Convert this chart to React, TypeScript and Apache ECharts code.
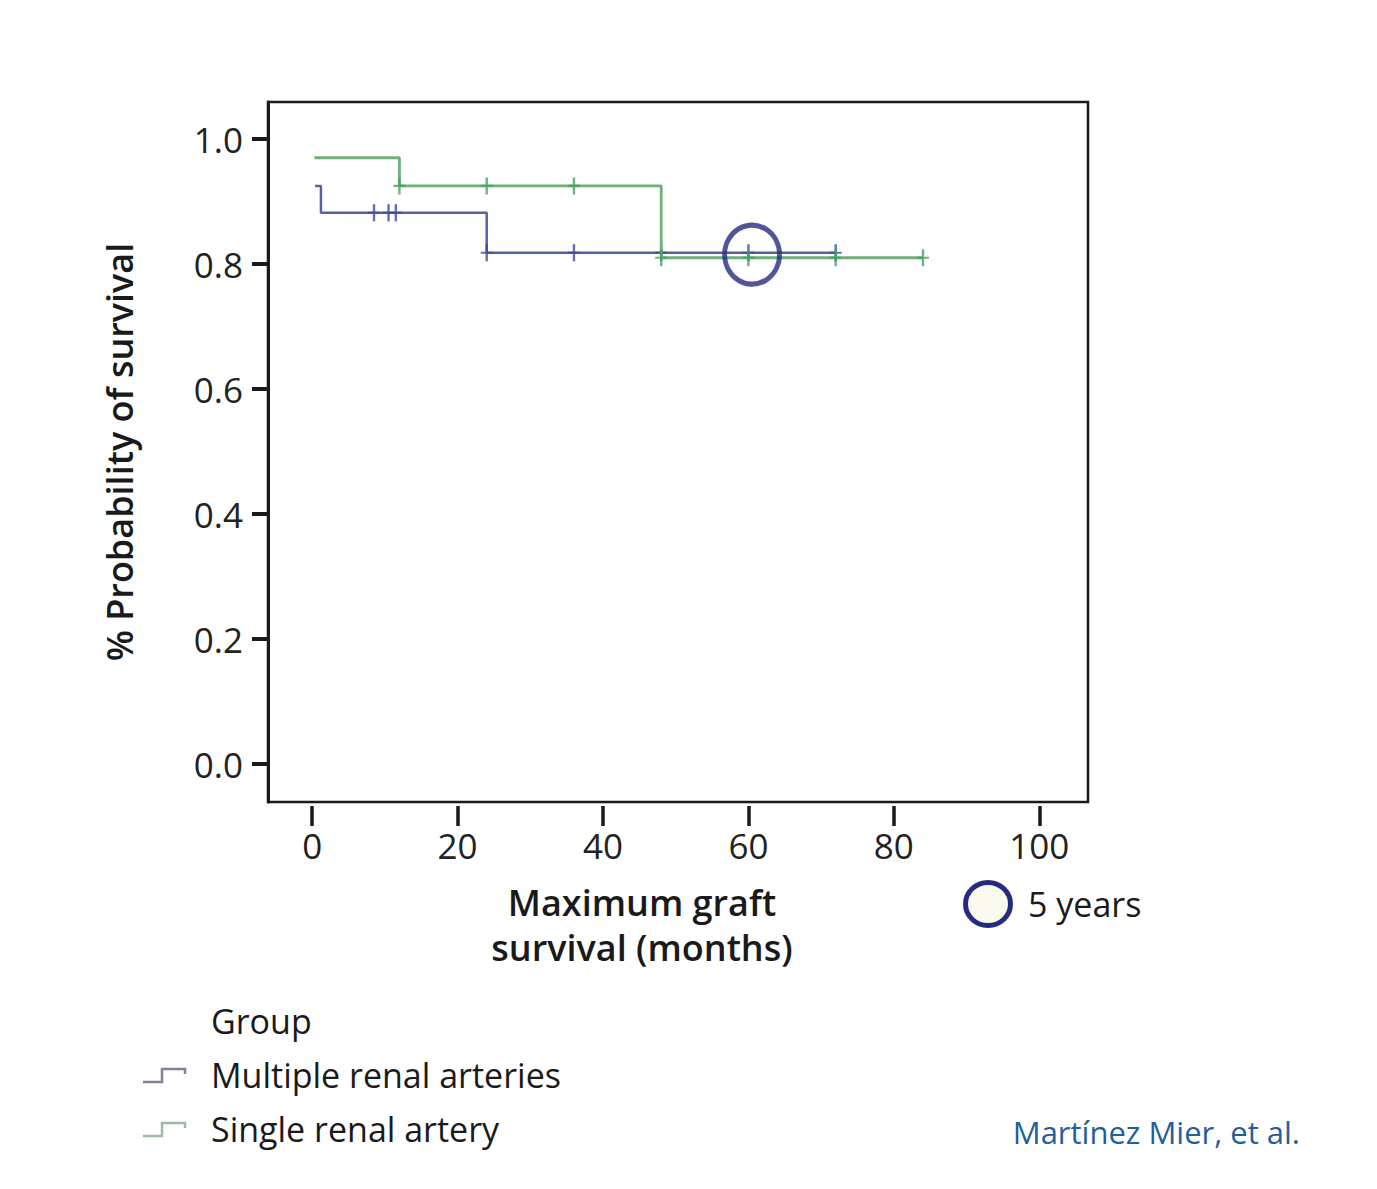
import { useEffect, useRef } from "react";
import * as echarts from "echarts";

// Kaplan-Meier steps (months, survival probability)
const singleTimes = [0.3, 12, 48, 84];
const singleSurv = [0.97, 0.925, 0.81, 0.81];
const singleCensorTimes = [12, 24, 36, 48, 60, 72, 84];
const singleCensorSurv = [0.925, 0.925, 0.925, 0.81, 0.81, 0.81, 0.81];

const multiTimes = [0.4, 1.2, 24, 72];
const multiSurv = [0.925, 0.882, 0.818, 0.818];
const multiCensorTimes = [8.5, 10.5, 11.5, 24, 36, 48, 60, 72];
const multiCensorSurv = [0.882, 0.882, 0.882, 0.818, 0.818, 0.818, 0.818, 0.818];

const fiveYears = [60.5, 0.815];

const xTicks = [0, 20, 40, 60, 80, 100];
const yTicks = [0, 0.2, 0.4, 0.6, 0.8, 1.0];

const FONT = "Open Sans";
const BLUE = "#5a609e";
const BLUE_MARK = "#3f4a9a";
const GREEN = "#6fb07b";
const GREEN_MARK = "#47a05c";
const NAVY = "#262a80";

// plus-shaped censor mark
const CENSOR = "path://M4,0H6V7H10V9H6V16H4V9H0V7H4Z";

const zip = (xs: number[], ys: number[]) => xs.map((x, i) => [x, ys[i]]);

const App = () => {
  const chartRef = useRef<HTMLDivElement>(null);

  useEffect(() => {
    if (!chartRef.current) return;
    const chart = echarts.init(chartRef.current, null, { renderer: "svg" });

    const option: any = {
      animation: false,
      backgroundColor: "#ffffff",
      grid: {
        left: 268,
        top: 102,
        width: 820,
        height: 700,
        show: true,
        borderColor: "#1a1a1a",
        borderWidth: 2.5,
        containLabel: false,
      },
      xAxis: {
        type: "value",
        min: -6.08,
        max: 106.7,
        offset: 4,
        axisLine: { show: false, onZero: false },
        splitLine: { show: false },
        axisTick: {
          show: true,
          length: 20,
          customValues: xTicks,
          lineStyle: { color: "#1a1a1a", width: 3.5 },
        },
        axisLabel: {
          customValues: xTicks,
          margin: 22,
          fontFamily: FONT,
          fontSize: 35,
          color: "#222",
        },
      },
      yAxis: {
        type: "value",
        min: -0.0608,
        max: 1.0592,
        name: "% Probability of survival",
        nameLocation: "middle",
        nameGap: 131,
        nameMoveOverlap: false,
        nameTextStyle: {
          fontFamily: FONT,
          fontSize: 36,
          fontWeight: 600,
          color: "#1a1a1a",
        },
        axisLine: { show: true, onZero: false, lineStyle: { color: "#1a1a1a", width: 3 } },
        splitLine: { show: false },
        axisTick: {
          show: true,
          length: 16,
          customValues: yTicks,
          lineStyle: { color: "#1a1a1a", width: 4 },
        },
        axisLabel: {
          customValues: yTicks,
          margin: 25,
          fontFamily: FONT,
          fontSize: 35,
          color: "#222",
          formatter: (v: number) => v.toFixed(1),
        },
      },
      series: [
        {
          name: "Multiple renal arteries",
          type: "line",
          step: "end",
          data: zip(multiTimes, multiSurv),
          showSymbol: false,
          lineStyle: { color: BLUE, width: 2.5 },
          z: 2,
        },
        {
          name: "Multiple censored",
          type: "scatter",
          data: zip(multiCensorTimes, multiCensorSurv),
          symbol: CENSOR,
          symbolSize: [12, 17],
          itemStyle: { color: BLUE_MARK },
          z: 3,
        },
        {
          name: "Single renal artery",
          type: "line",
          step: "end",
          data: zip(singleTimes, singleSurv),
          showSymbol: false,
          lineStyle: { color: GREEN, width: 2.8 },
          z: 4,
        },
        {
          name: "Single censored",
          type: "scatter",
          data: zip(singleCensorTimes, singleCensorSurv),
          symbol: CENSOR,
          symbolSize: [12, 17],
          itemStyle: { color: GREEN_MARK },
          z: 5,
        },
        {
          name: "5 years",
          type: "scatter",
          data: [fiveYears],
          symbol: "circle",
          symbolSize: [55, 59],
          itemStyle: {
            color: "rgba(0,0,0,0)",
            borderColor: NAVY,
            borderWidth: 5,
          },
          z: 6,
        },
      ],
      graphic: [
        {
          type: "text",
          x: 642,
          y: 880,
          style: {
            text: "Maximum graft\nsurvival (months)",
            align: "center",
            fontFamily: FONT,
            fontSize: 36,
            fontWeight: 600,
            lineHeight: 45,
            fill: "#1a1a1a",
          },
        },
        {
          type: "ellipse",
          shape: { cx: 988, cy: 904, rx: 22.5, ry: 21.5 },
          style: { fill: "#fafaee", stroke: NAVY, lineWidth: 5 },
        },
        {
          type: "text",
          x: 1028,
          y: 904,
          style: {
            text: "5 years",
            fontFamily: FONT,
            fontSize: 34,
            fill: "#1a1a1a",
            verticalAlign: "middle",
          },
        },
        {
          type: "text",
          x: 211,
          y: 1021,
          style: {
            text: "Group",
            fontFamily: FONT,
            fontSize: 34,
            fill: "#1a1a1a",
            verticalAlign: "middle",
          },
        },
        {
          type: "polyline",
          shape: { points: [[143, 1082], [162, 1082], [162, 1069], [185, 1069], [185, 1074]] },
          style: { stroke: "#7d8494", lineWidth: 2.5, fill: "none" },
        },
        {
          type: "text",
          x: 211,
          y: 1075,
          style: {
            text: "Multiple renal arteries",
            fontFamily: FONT,
            fontSize: 34,
            fill: "#1a1a1a",
            verticalAlign: "middle",
          },
        },
        {
          type: "polyline",
          shape: { points: [[143, 1136], [162, 1136], [162, 1123], [185, 1123], [185, 1128]] },
          style: { stroke: "#9dbba4", lineWidth: 2.5, fill: "none" },
        },
        {
          type: "text",
          x: 211,
          y: 1129,
          style: {
            text: "Single renal artery",
            fontFamily: FONT,
            fontSize: 34,
            fill: "#1a1a1a",
            verticalAlign: "middle",
          },
        },
        {
          type: "text",
          x: 1300,
          y: 1132,
          style: {
            text: "Martínez Mier, et al.",
            fontFamily: FONT,
            fontSize: 31,
            fill: "#215f9f",
            align: "right",
            verticalAlign: "middle",
          },
        },
      ],
    };

    chart.setOption(option);
    return () => {
      chart.dispose();
    };
  }, []);

  return (
    <div
      ref={chartRef}
      style={{ position: "absolute", left: 0, top: 0, width: 1377, height: 1189 }}
    />
  );
};

export default App;
